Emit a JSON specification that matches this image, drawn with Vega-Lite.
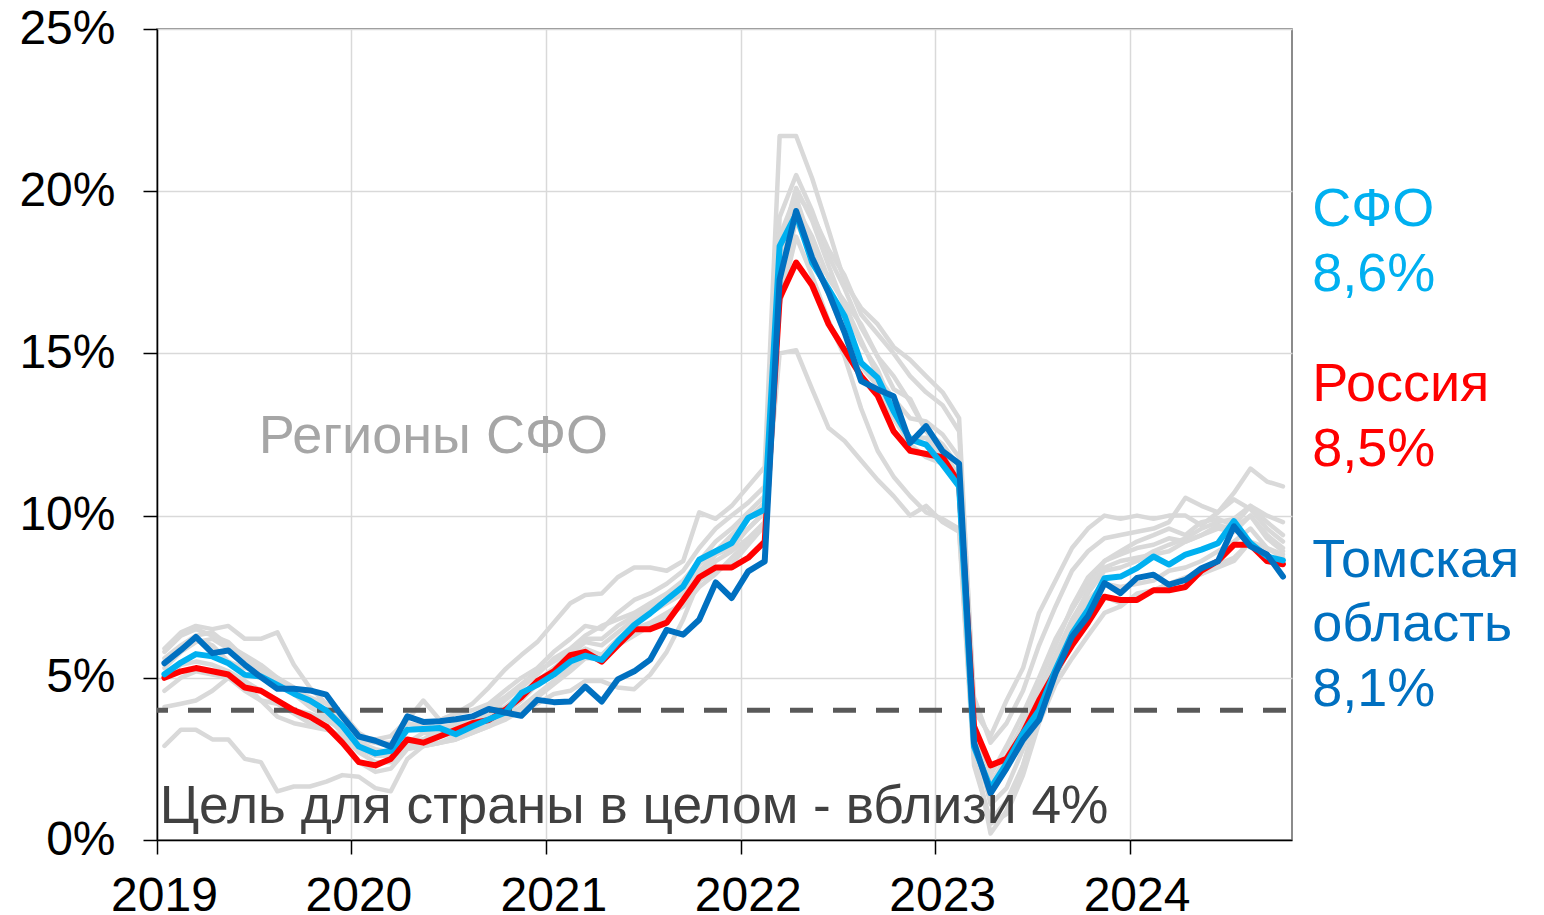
{
  "$schema": "https://vega.github.io/schema/vega-lite/v6.json",
  "width": 1135,
  "height": 811,
  "autosize": {"type": "none"},
  "padding": {"left": 157, "top": 29, "right": 252, "bottom": 75},
  "background": "white",
  "config": {"font": "Liberation Sans", "view": {"stroke": "#666666", "strokeWidth": 1.5}},
  "datasets": {
    "cpi": [
      {"d":"2019-01-15","R":5.0,"S":5.11,"T":5.45,"g1":5.9,"g2":2.9,"g3":5.3,"g4":5.6,"g5":5.0,"g6":4.1,"g7":5.4,"g8":4.6,"g9":5.8},
      {"d":"2019-02-15","R":5.2,"S":5.47,"T":5.86,"g1":6.4,"g2":3.4,"g3":5.8,"g4":6.0,"g5":5.4,"g6":4.2,"g7":5.9,"g8":5.0,"g9":6.3},
      {"d":"2019-03-15","R":5.3,"S":5.73,"T":6.26,"g1":6.6,"g2":3.4,"g3":6.1,"g4":6.3,"g5":5.5,"g6":4.3,"g7":6.2,"g8":5.2,"g9":6.5},
      {"d":"2019-04-15","R":5.2,"S":5.66,"T":5.76,"g1":6.5,"g2":3.1,"g3":6.2,"g4":6.4,"g5":5.4,"g6":4.6,"g7":6.0,"g8":5.1,"g9":6.3},
      {"d":"2019-05-15","R":5.1,"S":5.45,"T":5.84,"g1":6.6,"g2":3.1,"g3":5.9,"g4":6.0,"g5":5.2,"g6":5.0,"g7":5.5,"g8":5.0,"g9":6.1},
      {"d":"2019-06-15","R":4.7,"S":5.09,"T":5.40,"g1":6.2,"g2":2.5,"g3":5.5,"g4":5.7,"g5":4.9,"g6":4.6,"g7":5.3,"g8":4.8,"g9":5.6},
      {"d":"2019-07-15","R":4.6,"S":5.04,"T":5.02,"g1":6.2,"g2":2.4,"g3":5.2,"g4":5.4,"g5":4.6,"g6":4.3,"g7":5.2,"g8":4.3,"g9":5.3},
      {"d":"2019-08-15","R":4.3,"S":4.78,"T":4.66,"g1":6.4,"g2":1.5,"g3":4.9,"g4":5.0,"g5":4.2,"g6":4.2,"g7":5.0,"g8":3.8,"g9":4.9},
      {"d":"2019-09-15","R":4.0,"S":4.51,"T":4.66,"g1":5.4,"g2":1.65,"g3":4.6,"g4":4.5,"g5":3.9,"g6":4.0,"g7":4.7,"g8":3.6,"g9":4.6},
      {"d":"2019-10-15","R":3.8,"S":4.30,"T":4.61,"g1":4.7,"g2":1.65,"g3":4.3,"g4":4.1,"g5":3.6,"g6":3.9,"g7":4.2,"g8":3.5,"g9":4.4},
      {"d":"2019-11-15","R":3.5,"S":3.99,"T":4.48,"g1":4.2,"g2":1.8,"g3":4.0,"g4":3.8,"g5":3.5,"g6":3.7,"g7":3.9,"g8":3.4,"g9":4.2},
      {"d":"2019-12-15","R":3.0,"S":3.52,"T":3.81,"g1":3.9,"g2":2.0,"g3":3.6,"g4":3.3,"g5":3.1,"g6":3.4,"g7":3.5,"g8":3.2,"g9":3.7},
      {"d":"2020-01-15","R":2.4,"S":2.88,"T":3.19,"g1":3.3,"g2":1.95,"g3":3.0,"g4":2.8,"g5":2.4,"g6":2.9,"g7":3.1,"g8":2.7,"g9":3.2},
      {"d":"2020-02-15","R":2.3,"S":2.67,"T":3.06,"g1":3.0,"g2":1.6,"g3":2.8,"g4":2.6,"g5":2.1,"g6":2.6,"g7":3.0,"g8":2.4,"g9":3.1},
      {"d":"2020-03-15","R":2.5,"S":2.75,"T":2.88,"g1":2.9,"g2":1.5,"g3":2.7,"g4":2.6,"g5":2.2,"g6":2.6,"g7":3.0,"g8":2.4,"g9":3.2},
      {"d":"2020-04-15","R":3.1,"S":3.40,"T":3.81,"g1":3.6,"g2":2.5,"g3":3.0,"g4":3.0,"g5":2.8,"g6":2.9,"g7":3.4,"g8":2.9,"g9":3.7},
      {"d":"2020-05-15","R":3.0,"S":3.42,"T":3.64,"g1":3.5,"g2":2.9,"g3":3.1,"g4":3.3,"g5":2.9,"g6":3.1,"g7":3.4,"g8":2.9,"g9":4.3},
      {"d":"2020-06-15","R":3.2,"S":3.45,"T":3.66,"g1":3.7,"g2":3.0,"g3":3.2,"g4":3.3,"g5":3.0,"g6":3.4,"g7":3.5,"g8":3.0,"g9":3.7},
      {"d":"2020-07-15","R":3.4,"S":3.26,"T":3.72,"g1":3.9,"g2":3.1,"g3":3.3,"g4":3.5,"g5":3.1,"g6":3.6,"g7":3.5,"g8":3.2,"g9":3.9},
      {"d":"2020-08-15","R":3.6,"S":3.50,"T":3.81,"g1":4.2,"g2":3.3,"g3":3.5,"g4":3.7,"g5":3.3,"g6":3.8,"g7":3.7,"g8":3.4,"g9":4.0},
      {"d":"2020-09-15","R":3.7,"S":3.72,"T":4.04,"g1":4.7,"g2":3.5,"g3":3.7,"g4":3.9,"g5":3.5,"g6":4.1,"g7":3.9,"g8":3.6,"g9":4.2},
      {"d":"2020-10-15","R":4.0,"S":3.92,"T":3.93,"g1":5.25,"g2":3.7,"g3":3.9,"g4":4.3,"g5":3.8,"g6":4.4,"g7":4.1,"g8":3.8,"g9":4.6},
      {"d":"2020-11-15","R":4.4,"S":4.53,"T":3.83,"g1":5.7,"g2":4.0,"g3":4.3,"g4":4.7,"g5":4.1,"g6":4.8,"g7":4.5,"g8":4.0,"g9":5.0},
      {"d":"2020-12-15","R":4.9,"S":4.78,"T":4.32,"g1":6.1,"g2":4.4,"g3":4.8,"g4":5.1,"g5":4.5,"g6":5.2,"g7":4.9,"g8":4.2,"g9":5.3},
      {"d":"2021-01-15","R":5.2,"S":5.10,"T":4.25,"g1":6.7,"g2":4.8,"g3":5.3,"g4":5.6,"g5":4.9,"g6":5.5,"g7":5.3,"g8":4.5,"g9":5.8},
      {"d":"2021-02-15","R":5.7,"S":5.50,"T":4.27,"g1":7.3,"g2":5.2,"g3":5.7,"g4":5.9,"g5":5.3,"g6":5.8,"g7":5.6,"g8":4.6,"g9":6.2},
      {"d":"2021-03-15","R":5.8,"S":5.68,"T":4.73,"g1":7.55,"g2":5.6,"g3":6.1,"g4":6.3,"g5":5.8,"g6":6.2,"g7":5.9,"g8":4.9,"g9":6.6},
      {"d":"2021-04-15","R":5.5,"S":5.55,"T":4.27,"g1":7.6,"g2":5.6,"g3":6.0,"g4":6.6,"g5":5.7,"g6":6.2,"g7":5.7,"g8":4.9,"g9":6.5},
      {"d":"2021-05-15","R":6.0,"S":6.12,"T":4.95,"g1":8.1,"g2":6.0,"g3":6.4,"g4":6.8,"g5":6.1,"g6":6.6,"g7":6.2,"g8":4.7,"g9":7.0},
      {"d":"2021-06-15","R":6.5,"S":6.63,"T":5.2,"g1":8.4,"g2":6.3,"g3":6.8,"g4":7.0,"g5":6.5,"g6":6.9,"g7":6.6,"g8":4.65,"g9":7.4},
      {"d":"2021-07-15","R":6.5,"S":6.99,"T":5.56,"g1":8.4,"g2":6.6,"g3":7.1,"g4":7.3,"g5":6.7,"g6":7.2,"g7":7.0,"g8":5.1,"g9":7.6},
      {"d":"2021-08-15","R":6.7,"S":7.41,"T":6.48,"g1":8.3,"g2":6.9,"g3":7.4,"g4":7.6,"g5":7.0,"g6":7.4,"g7":7.3,"g8":5.8,"g9":7.9},
      {"d":"2021-09-15","R":7.4,"S":7.82,"T":6.33,"g1":8.6,"g2":7.2,"g3":7.8,"g4":8.0,"g5":7.3,"g6":7.7,"g7":7.6,"g8":6.8,"g9":8.3},
      {"d":"2021-10-15","R":8.1,"S":8.64,"T":6.79,"g1":10.1,"g2":7.8,"g3":8.5,"g4":8.6,"g5":8.0,"g6":8.2,"g7":8.3,"g8":8.0,"g9":9.0},
      {"d":"2021-11-15","R":8.4,"S":8.90,"T":7.94,"g1":9.9,"g2":8.2,"g3":8.9,"g4":9.2,"g5":8.6,"g6":8.8,"g7":8.8,"g8":8.3,"g9":9.6},
      {"d":"2021-12-15","R":8.4,"S":9.15,"T":7.46,"g1":10.3,"g2":8.7,"g3":9.4,"g4":9.6,"g5":8.9,"g6":9.2,"g7":9.0,"g8":8.5,"g9":10.0},
      {"d":"2022-01-15","R":8.7,"S":9.93,"T":8.28,"g1":10.9,"g2":9.2,"g3":9.9,"g4":10.1,"g5":9.3,"g6":9.6,"g7":9.6,"g8":9.1,"g9":10.4},
      {"d":"2022-02-15","R":9.2,"S":10.19,"T":8.59,"g1":11.5,"g2":9.8,"g3":10.4,"g4":10.6,"g5":9.8,"g6":10.1,"g7":10.1,"g8":9.7,"g9":10.9},
      {"d":"2022-03-15","R":16.7,"S":18.31,"T":17.28,"g1":21.7,"g2":15.0,"g3":19.2,"g4":18.2,"g5":17.5,"g6":17.0,"g7":17.8,"g8":16.5,"g9":18.6},
      {"d":"2022-04-15","R":17.8,"S":19.29,"T":19.39,"g1":21.7,"g2":15.1,"g3":20.5,"g4":20.1,"g5":19.8,"g6":19.1,"g7":19.5,"g8":18.6,"g9":19.9},
      {"d":"2022-05-15","R":17.1,"S":17.8,"T":17.95,"g1":20.4,"g2":13.9,"g3":19.4,"g4":19.1,"g5":18.3,"g6":17.9,"g7":18.6,"g8":17.4,"g9":19.3},
      {"d":"2022-06-15","R":15.9,"S":16.98,"T":16.87,"g1":18.8,"g2":12.7,"g3":18.0,"g4":17.7,"g5":16.8,"g6":17.4,"g7":17.3,"g8":16.0,"g9":18.2},
      {"d":"2022-07-15","R":15.1,"S":16.15,"T":15.64,"g1":17.2,"g2":12.3,"g3":17.0,"g4":16.4,"g5":15.6,"g6":16.5,"g7":16.6,"g8":14.9,"g9":17.4},
      {"d":"2022-08-15","R":14.3,"S":14.71,"T":14.15,"g1":16.4,"g2":11.7,"g3":15.8,"g4":15.3,"g5":14.6,"g6":15.4,"g7":15.9,"g8":13.3,"g9":16.2},
      {"d":"2022-09-15","R":13.7,"S":14.25,"T":13.89,"g1":15.9,"g2":11.1,"g3":14.9,"g4":14.5,"g5":14.0,"g6":14.3,"g7":14.9,"g8":12.0,"g9":15.6},
      {"d":"2022-10-15","R":12.6,"S":13.22,"T":13.68,"g1":15.2,"g2":10.6,"g3":14.3,"g4":13.3,"g5":13.0,"g6":13.6,"g7":13.9,"g8":11.2,"g9":15.0},
      {"d":"2022-11-15","R":12.0,"S":12.35,"T":12.24,"g1":14.8,"g2":10.0,"g3":13.5,"g4":12.4,"g5":12.2,"g6":13.0,"g7":13.6,"g8":10.6,"g9":14.3},
      {"d":"2022-12-15","R":11.9,"S":12.19,"T":12.76,"g1":14.3,"g2":10.3,"g3":12.6,"g4":12.4,"g5":11.8,"g6":12.9,"g7":12.6,"g8":10.1,"g9":13.8},
      {"d":"2023-01-15","R":11.8,"S":11.57,"T":11.99,"g1":13.8,"g2":9.8,"g3":12.2,"g4":11.8,"g5":11.6,"g6":12.5,"g7":12.0,"g8":9.9,"g9":13.4},
      {"d":"2023-02-15","R":11.0,"S":10.9,"T":11.6,"g1":13.0,"g2":9.5,"g3":11.5,"g4":11.2,"g5":10.9,"g6":11.8,"g7":11.2,"g8":9.6,"g9":12.6},
      {"d":"2023-03-15","R":3.5,"S":2.88,"T":3.0,"g1":4.0,"g2":2.3,"g3":3.0,"g4":2.8,"g5":3.2,"g6":3.6,"g7":3.3,"g8":2.5,"g9":4.4},
      {"d":"2023-04-15","R":2.3,"S":1.59,"T":1.44,"g1":3.2,"g2":0.6,"g3":1.8,"g4":0.2,"g5":1.1,"g6":2.0,"g7":1.7,"g8":0.5,"g9":3.0},
      {"d":"2023-05-15","R":2.5,"S":2.36,"T":2.21,"g1":4.3,"g2":1.2,"g3":2.4,"g4":0.9,"g5":1.6,"g6":2.9,"g7":2.6,"g8":0.8,"g9":3.6},
      {"d":"2023-06-15","R":3.3,"S":3.29,"T":3.09,"g1":5.3,"g2":2.3,"g3":3.4,"g4":2.3,"g5":2.8,"g6":3.9,"g7":3.6,"g8":2.0,"g9":4.6},
      {"d":"2023-07-15","R":4.3,"S":4.0,"T":3.70,"g1":7.0,"g2":3.9,"g3":4.6,"g4":4.0,"g5":4.3,"g6":5.0,"g7":4.9,"g8":3.6,"g9":6.0},
      {"d":"2023-08-15","R":5.2,"S":5.25,"T":5.14,"g1":8.0,"g2":5.0,"g3":5.7,"g4":5.4,"g5":5.6,"g6":6.2,"g7":6.0,"g8":4.8,"g9":7.2},
      {"d":"2023-09-15","R":6.0,"S":6.36,"T":6.27,"g1":9.0,"g2":6.1,"g3":6.8,"g4":6.7,"g5":6.6,"g6":7.1,"g7":7.2,"g8":5.6,"g9":8.3},
      {"d":"2023-10-15","R":6.7,"S":7.1,"T":6.9,"g1":9.6,"g2":6.9,"g3":7.6,"g4":7.7,"g5":7.4,"g6":7.9,"g7":8.1,"g8":6.3,"g9":8.9},
      {"d":"2023-11-15","R":7.5,"S":8.07,"T":7.92,"g1":10.0,"g2":7.5,"g3":8.3,"g4":8.4,"g5":7.9,"g6":8.6,"g7":8.6,"g8":7.0,"g9":9.3},
      {"d":"2023-12-15","R":7.4,"S":8.12,"T":7.61,"g1":9.9,"g2":7.3,"g3":8.4,"g4":8.6,"g5":7.8,"g6":8.9,"g7":8.8,"g8":7.2,"g9":9.4},
      {"d":"2024-01-15","R":7.4,"S":8.38,"T":8.08,"g1":10.0,"g2":7.5,"g3":8.6,"g4":8.7,"g5":7.9,"g6":9.2,"g7":9.0,"g8":7.6,"g9":9.5},
      {"d":"2024-02-15","R":7.7,"S":8.74,"T":8.18,"g1":9.9,"g2":7.7,"g3":8.9,"g4":8.8,"g5":8.0,"g6":9.4,"g7":9.1,"g8":7.7,"g9":9.6},
      {"d":"2024-03-15","R":7.7,"S":8.49,"T":7.87,"g1":10.0,"g2":7.9,"g3":9.1,"g4":8.9,"g5":8.3,"g6":9.6,"g7":9.3,"g8":7.9,"g9":9.8},
      {"d":"2024-04-15","R":7.8,"S":8.8,"T":8.02,"g1":10.0,"g2":8.1,"g3":9.3,"g4":9.2,"g5":8.4,"g6":9.4,"g7":9.2,"g8":8.0,"g9":10.55},
      {"d":"2024-05-15","R":8.3,"S":8.95,"T":8.38,"g1":9.7,"g2":8.2,"g3":9.6,"g4":9.4,"g5":8.6,"g6":9.8,"g7":9.4,"g8":8.2,"g9":10.3},
      {"d":"2024-06-15","R":8.6,"S":9.15,"T":8.59,"g1":10.1,"g2":8.5,"g3":9.8,"g4":9.6,"g5":8.9,"g6":9.9,"g7":9.7,"g8":8.4,"g9":10.1},
      {"d":"2024-07-15","R":9.1,"S":9.83,"T":9.67,"g1":10.7,"g2":8.7,"g3":9.9,"g4":9.5,"g5":9.2,"g6":9.7,"g7":9.6,"g8":8.6,"g9":10.5},
      {"d":"2024-08-15","R":9.1,"S":9.15,"T":9.05,"g1":11.45,"g2":9.2,"g3":10.3,"g4":10.0,"g5":9.6,"g6":10.3,"g7":10.0,"g8":9.2,"g9":10.2},
      {"d":"2024-09-15","R":8.6,"S":8.74,"T":8.8,"g1":11.05,"g2":9.0,"g3":9.8,"g4":9.3,"g5":9.0,"g6":10.0,"g7":9.4,"g8":8.8,"g9":9.6},
      {"d":"2024-10-15","R":8.5,"S":8.62,"T":8.12,"g1":10.9,"g2":8.8,"g3":9.4,"g4":8.9,"g5":8.7,"g6":9.8,"g7":9.0,"g8":8.5,"g9":9.2}
    ],
    "rightLabels": [
      {"d":"2024-12-09","value":18.92,"t":"СФО","s":"S"},
      {"d":"2024-12-09","value":16.91,"t":"8,6%","s":"S"},
      {"d":"2024-12-09","value":13.52,"t":"Россия","s":"R"},
      {"d":"2024-12-09","value":11.54,"t":"8,5%","s":"R"},
      {"d":"2024-12-09","value":8.11,"t":"Томская","s":"T"},
      {"d":"2024-12-09","value":6.12,"t":"область","s":"T"},
      {"d":"2024-12-09","value":4.14,"t":"8,1%","s":"T"}
    ]
  },
  "layer": [
    {
      "data": {"name": "cpi"},
      "transform": [{"fold": ["g1","g2","g3","g4","g5","g6","g7","g8","g9"], "as": ["series","value"]}],
      "mark": {"type": "line", "color": "#d9d9d9", "strokeWidth": 4.5, "strokeJoin": "round", "strokeCap": "round"},
      "encoding": {
        "x": {
          "field": "d", "type": "temporal", "title": null,
          "scale": {"type": "utc", "domain": [{"year":2019,"month":1,"date":1,"utc":true},{"year":2024,"month":11,"date":1,"utc":true}]},
          "axis": {
            "values": [{"year":2019,"month":1,"date":1,"utc":true},{"year":2020,"month":1,"date":1,"utc":true},{"year":2021,"month":1,"date":1,"utc":true},{"year":2022,"month":1,"date":1,"utc":true},{"year":2023,"month":1,"date":1,"utc":true},{"year":2024,"month":1,"date":1,"utc":true}],
            "labelExpr": "utcFormat(datum.value, '%Y')",
            "labelFontSize": 48, "labelColor": "#000000", "labelFont": "Liberation Sans",
            "labelPadding": 18, "labelOffset": 7, "labelFlush": false, "labelOverlap": false,
            "domainColor": "#000000", "domainWidth": 1.5,
            "tickColor": "#000000", "tickWidth": 1.5, "tickSize": 14,
            "grid": true, "gridColor": "#d9d9d9", "gridWidth": 1.5
          }
        },
        "y": {
          "field": "value", "type": "quantitative", "title": null,
          "scale": {"domain": [0, 25], "nice": false, "zero": true},
          "axis": {
            "values": [0, 5, 10, 15, 20, 25],
            "labelExpr": "datum.value + '%'",
            "labelFontSize": 48, "labelColor": "#000000", "labelFont": "Liberation Sans",
            "labelPadding": 28, "labelDy": 1,
            "domainColor": "#000000", "domainWidth": 1.5,
            "tickColor": "#000000", "tickWidth": 1.5, "tickSize": 14,
            "grid": true, "gridColor": "#d9d9d9", "gridWidth": 1.5
          }
        },
        "detail": {"field": "series", "type": "nominal"}
      }
    },
    {
      "data": {"values": [{"goal": 4}]},
      "mark": {"type": "rule", "color": "#595959", "strokeWidth": 5, "strokeDash": [23, 20], "strokeDashOffset": -6},
      "encoding": {"y": {"field": "goal", "type": "quantitative", "title": null}}
    },
    {
      "data": {"name": "cpi"},
      "transform": [{"fold": ["R"], "as": ["series","value"]}],
      "mark": {"type": "line", "color": "#ff0000", "strokeWidth": 6, "strokeJoin": "round", "strokeCap": "round"},
      "encoding": {
        "x": {"field": "d", "type": "temporal", "title": null},
        "y": {"field": "value", "type": "quantitative", "title": null}
      }
    },
    {
      "data": {"name": "cpi"},
      "transform": [{"fold": ["S"], "as": ["series","value"]}],
      "mark": {"type": "line", "color": "#00b0f0", "strokeWidth": 6, "strokeJoin": "round", "strokeCap": "round"},
      "encoding": {
        "x": {"field": "d", "type": "temporal", "title": null},
        "y": {"field": "value", "type": "quantitative", "title": null}
      }
    },
    {
      "data": {"name": "cpi"},
      "transform": [{"fold": ["T"], "as": ["series","value"]}],
      "mark": {"type": "line", "color": "#0070c0", "strokeWidth": 6, "strokeJoin": "round", "strokeCap": "round"},
      "encoding": {
        "x": {"field": "d", "type": "temporal", "title": null},
        "y": {"field": "value", "type": "quantitative", "title": null}
      }
    },
    {
      "data": {"name": "rightLabels"},
      "mark": {"type": "text", "align": "left", "baseline": "alphabetic", "fontSize": 54, "font": "Liberation Sans"},
      "encoding": {
        "x": {"field": "d", "type": "temporal", "title": null},
        "y": {"field": "value", "type": "quantitative", "title": null},
        "text": {"field": "t", "type": "nominal"},
        "color": {"field": "s", "type": "nominal", "scale": {"domain": ["S","R","T"], "range": ["#00b0f0","#ff0000","#0070c0"]}, "legend": null}
      }
    },
    {
      "data": {"values": [{"d": "2019-07-11", "value": 11.94, "t": "Регионы СФО"}]},
      "mark": {"type": "text", "align": "left", "baseline": "alphabetic", "fontSize": 54, "font": "Liberation Sans", "color": "#a6a6a6"},
      "encoding": {
        "x": {"field": "d", "type": "temporal", "title": null},
        "y": {"field": "value", "type": "quantitative", "title": null},
        "text": {"field": "t", "type": "nominal"}
      }
    },
    {
      "data": {"values": [{"d": "2019-01-06", "value": 0.52, "t": "Цель для страны в целом - вблизи 4%"}]},
      "mark": {"type": "text", "align": "left", "baseline": "alphabetic", "fontSize": 53.3, "font": "Liberation Sans", "color": "#404040"},
      "encoding": {
        "x": {"field": "d", "type": "temporal", "title": null},
        "y": {"field": "value", "type": "quantitative", "title": null},
        "text": {"field": "t", "type": "nominal"}
      }
    }
  ]
}
